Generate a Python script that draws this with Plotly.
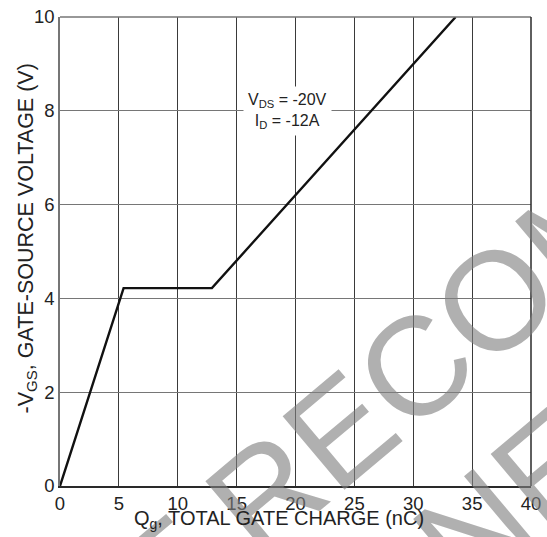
import plotly.graph_objects as go

# Data
qg_nc = [0, 5.4, 12.9, 33.6]
vgs_v = [0, 4.22, 4.22, 10]

x_ticks = [0, 5, 10, 15, 20, 25, 30, 35, 40]
y_ticks = [0, 2, 4, 6, 8, 10]

FONT = "Liberation Sans, Arial, sans-serif"
TXT = "#222222"
DARK = "#2a2a2a"
GRAY = "#767676"

fig = go.Figure()
fig.add_trace(go.Scatter(
    x=qg_nc, y=vgs_v, mode="lines",
    line=dict(color="#111111", width=2.4),
    hoverinfo="skip", showlegend=False,
))

fig.update_layout(
    width=547, height=537,
    margin=dict(l=60, r=7, t=6, b=51),
    paper_bgcolor="white", plot_bgcolor="white",
    font=dict(family=FONT, color=TXT),
    xaxis=dict(
        range=[0, 40], tickvals=x_ticks, ticktext=[str(v) for v in x_ticks],
        showgrid=True, gridcolor="#3a3a3a", gridwidth=1,
        zeroline=False, showline=True, linecolor=DARK, linewidth=1.5,
        ticks="", tickfont=dict(size=18.5, color=TXT),
        ticklabeloverflow="allow",
    ),
    yaxis=dict(
        range=[0, 10], tickvals=y_ticks, ticktext=[str(v) for v in y_ticks],
        showgrid=True, gridcolor=GRAY, gridwidth=1,
        zeroline=False, showline=True, linecolor=GRAY, linewidth=1.5,
        ticks="", tickfont=dict(size=18.5, color=TXT),
        ticklabeloverflow="allow",
    ),
    shapes=[
        dict(type="line", xref="paper", yref="paper", x0=0, x1=1, y0=1, y1=1,
             line=dict(color=GRAY, width=1.5), layer="above"),
        dict(type="line", xref="paper", yref="paper", x0=1, x1=1, y0=0, y1=1,
             line=dict(color=DARK, width=1.5), layer="above"),
    ],
)

# watermark lines
fig.add_annotation(
    text="NOT RECOMMENDED", xref="paper", yref="paper", x=1.0015, y=0.4625,
    xanchor="center", yanchor="middle", showarrow=False, textangle=-40,
    font=dict(family=FONT, size=140, color="rgba(128,128,128,0.62)"),
)
fig.add_annotation(
    text="FOR NEW DESIGN", xref="paper", yref="paper", x=1.2577, y=0.226,
    xanchor="center", yanchor="middle", showarrow=False, textangle=-40,
    font=dict(family=FONT, size=140, color="rgba(128,128,128,0.62)"),
)

# condition label
fig.add_annotation(
    text="V<sub>DS</sub> = -20V<br>I<sub>D</sub> = -12A",
    x=19.3, y=8, xref="x", yref="y", showarrow=False,
    xanchor="center", yanchor="middle",
    bgcolor="white", borderpad=4,
    font=dict(family=FONT, size=16, color=TXT),
)

# axis titles
fig.add_annotation(
    text="Q<sub>g</sub>, TOTAL GATE CHARGE (nC)",
    xref="paper", yref="paper", x=(283 - 60) / 480, y=-(520 - 486) / 480,
    xanchor="center", yanchor="middle", showarrow=False,
    font=dict(family=FONT, size=20, color=TXT),
)
fig.add_annotation(
    text="-V<sub>GS</sub>, GATE-SOURCE VOLTAGE (V)",
    xref="paper", yref="paper", x=-(60 - 27) / 480, y=(486 - 233) / 480,
    xanchor="center", yanchor="middle", showarrow=False, textangle=-90,
    font=dict(family=FONT, size=21.5, color=TXT),
)

fig.write_html(
    "out.html",
    config={"displayModeBar": False},
    post_script="document.body.style.margin='0';document.body.style.overflow='hidden';",
)
